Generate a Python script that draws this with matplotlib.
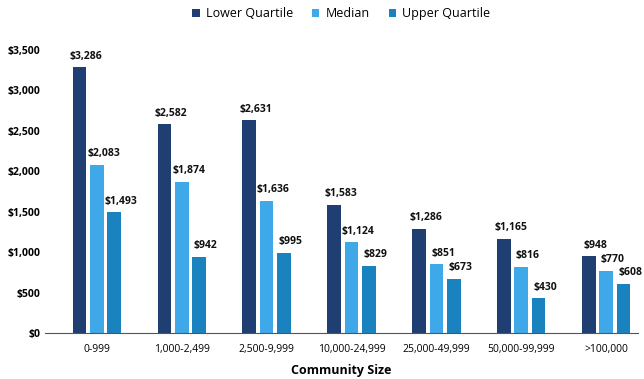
import matplotlib.pyplot as plt
import numpy as np

plt.rcParams['font.family'] = ['Open Sans', 'DejaVu Sans']

categories = ["0-999", "1,000-2,499", "2,500-9,999", "10,000-24,999",
              "25,000-49,999", "50,000-99,999", ">100,000"]
lower_quartile = [3286, 2582, 2631, 1583, 1286, 1165, 948]
median = [2083, 1874, 1636, 1124, 851, 816, 770]
upper_quartile = [1493, 942, 995, 829, 673, 430, 608]

series = [("Lower Quartile", lower_quartile, "#1f3f73"),
          ("Median", median, "#3fa8e8"),
          ("Upper Quartile", upper_quartile, "#1b82c0")]

fig = plt.figure(figsize=(6.44, 3.79), dpi=100)
ax = fig.add_axes([0.07, 0.121, 0.92, 0.747])

x = np.arange(len(categories))
width = 0.16
gap = 0.045
for i, (name, vals, color) in enumerate(series):
    pos = x + (i - 1) * (width + gap)
    ax.bar(pos, vals, width, color=color, label=name)
    for p, v in zip(pos, vals):
        ax.text(p + 0.08, v + 70, f"${v:,}", ha="center", va="bottom",
                fontsize=7.5, fontweight="bold", color="#111111")

ax.set_ylim(0, 3500)
ax.set_xlim(-0.61, 6.37)
ax.set_yticks(np.arange(0, 3501, 500))
ax.set_yticklabels([f"${v:,}" for v in range(0, 3501, 500)],
                   fontsize=7.5, fontweight="bold")
ax.set_xticks(x)
ax.set_xticklabels(categories, fontsize=7.5)
ax.tick_params(axis="both", length=0)
ax.tick_params(axis="x", pad=8)
for s in ["top", "right", "left"]:
    ax.spines[s].set_visible(False)
ax.spines["bottom"].set_color("#555555")
ax.set_xlabel("Community Size", fontsize=9, fontweight="bold", labelpad=6)

ax.legend(loc="upper center", bbox_to_anchor=(0.5, 1.19), ncol=3,
          frameon=False, fontsize=9, handlelength=0.6, handleheight=0.6,
          columnspacing=1.5, handletextpad=0.5)

fig.savefig("out.png", dpi=100)
